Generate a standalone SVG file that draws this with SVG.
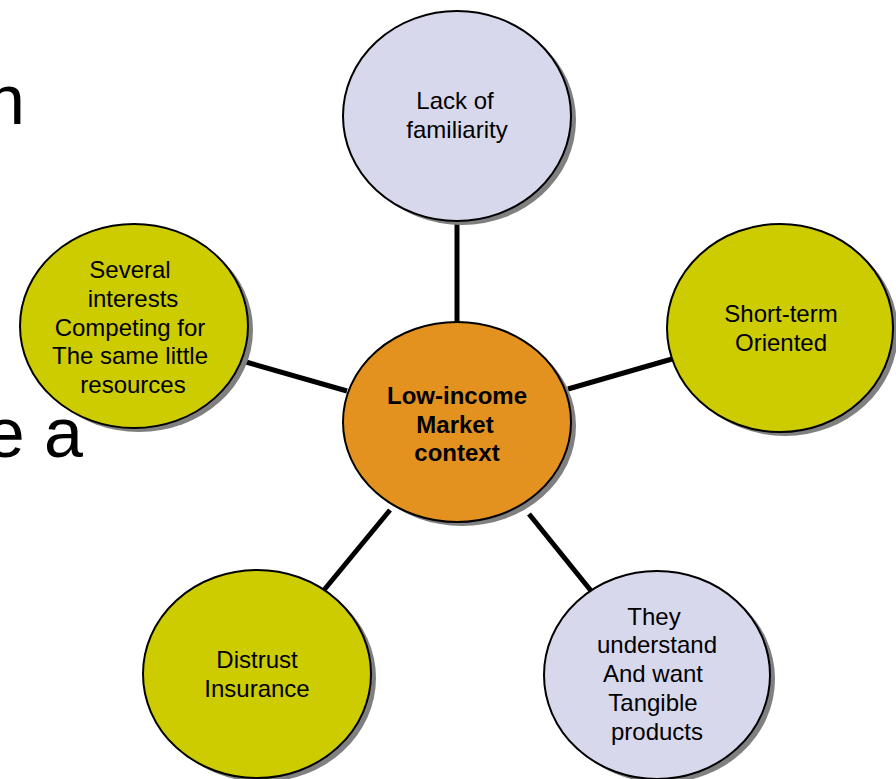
<svg xmlns="http://www.w3.org/2000/svg" width="896" height="779" viewBox="0 0 896 779">
<style>
.bg{font-family:"Liberation Sans",Arial,sans-serif;font-size:70px;fill:#000}
.t{font-family:"Liberation Sans",Arial,sans-serif;font-size:24px;fill:#000;text-anchor:middle}
.b{font-weight:bold}
.sh{fill:#808080}
.c{stroke:#000;stroke-width:2}
.lav{fill:#D8D8EC}
.ol{fill:#CCCC00}
.or{fill:#E3921F}
.ln{stroke:#000;stroke-width:5;stroke-linecap:butt}
</style>
<rect width="896" height="779" fill="#fff"/>
<text class="bg" x="25" y="124" text-anchor="end">n</text>
<text class="bg" x="83" y="457" text-anchor="end">e a</text>
<g id="connectors">
<line class="ln" x1="457" y1="220" x2="457" y2="323"/>
<line class="ln" x1="246" y1="362" x2="347" y2="391"/>
<line class="ln" x1="568" y1="389" x2="672" y2="359"/>
<line class="ln" x1="324" y1="590" x2="390" y2="510"/>
<line class="ln" x1="529" y1="514" x2="592" y2="592"/>
</g>
<g id="center">
<ellipse class="sh" cx="462" cy="426" rx="114" ry="100"/>
<ellipse class="c or" cx="457" cy="422" rx="114" ry="100"/>
<text class="t b" x="457" y="404">Low-income</text>
<text class="t b" x="455" y="433">Market</text>
<text class="t b" x="457" y="461">context</text>
</g>
<g id="top">
<ellipse class="sh" cx="462" cy="120" rx="114" ry="105"/>
<ellipse class="c lav" cx="457" cy="116" rx="114" ry="105"/>
<text class="t" x="455" y="109">Lack of</text>
<text class="t" x="457" y="138">familiarity</text>
</g>
<g id="right">
<ellipse class="sh" cx="785" cy="332" rx="113" ry="104"/>
<ellipse class="c ol" cx="780" cy="328" rx="113" ry="104"/>
<text class="t" x="781" y="322">Short-term</text>
<text class="t" x="781" y="351">Oriented</text>
</g>
<g id="left">
<ellipse class="sh" cx="139" cy="330" rx="114" ry="102"/>
<ellipse class="c ol" cx="134" cy="326" rx="114" ry="102"/>
<text class="t" x="130" y="278">Several</text>
<text class="t" x="133" y="307">interests</text>
<text class="t" x="130" y="336">Competing for</text>
<text class="t" x="130" y="364">The same little</text>
<text class="t" x="133" y="393">resources</text>
</g>
<g id="bottomleft">
<ellipse class="sh" cx="262" cy="678" rx="114" ry="104"/>
<ellipse class="c ol" cx="257" cy="674" rx="114" ry="104"/>
<text class="t" x="257" y="668">Distrust</text>
<text class="t" x="257" y="697">Insurance</text>
</g>
<g id="bottomright">
<ellipse class="sh" cx="662" cy="679" rx="113" ry="104"/>
<ellipse class="c lav" cx="657" cy="675" rx="113" ry="104"/>
<text class="t" x="654" y="625">They</text>
<text class="t" x="657" y="653">understand</text>
<text class="t" x="653" y="682">And want</text>
<text class="t" x="653" y="711">Tangible</text>
<text class="t" x="657" y="740">products</text>
</g>
</svg>
